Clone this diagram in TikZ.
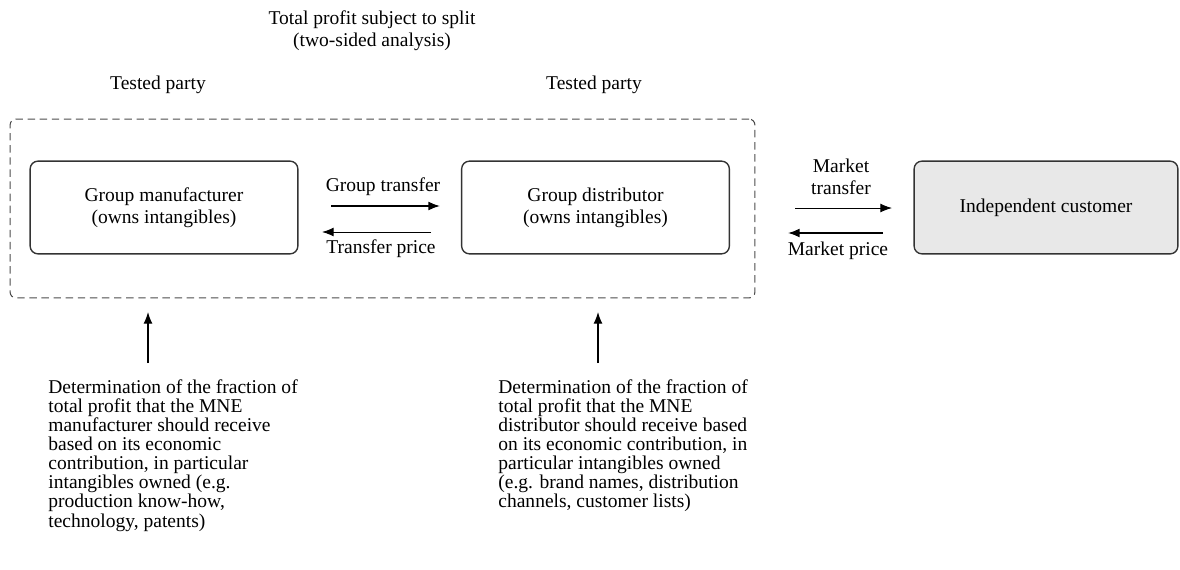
\documentclass[tikz,border=0pt]{standalone}
\usepackage{fontspec}
\setmainfont{Liberation Serif}
\usetikzlibrary{arrows.meta}

\tikzset{
    party/.style={draw=black!80, line width=0.7pt, rounded corners=4pt,
        minimum width=4.82cm, minimum height=1.67cm, align=center,
        font=\fontsize{10}{11.3}\selectfont},
    txt/.style={align=center, inner sep=0pt, font=\fontsize{10}{11.3}\selectfont},
    note/.style={align=left, anchor=north west, inner sep=0pt,
        font=\fontsize{10}{9.8}\selectfont},
    flow/.style={-{Latex[length=6pt,width=4.6pt]}, line width=0.5pt},
    boldflow/.style={flow, line width=0.8pt},
}

\begin{document}
\begin{tikzpicture}[x=0.018cm, y=-0.018cm]
    \useasboundingbox (0,0) rectangle (1180,569);

    % headings
    \node[txt] (split) at (372,31) {Total profit subject to split\\(two-sided analysis)};
    \node[txt] (test1) at (158,85) {Tested party};
    \node[txt] (test2) at (594,85) {Tested party};

    % the group
    \node[draw=black!70, dash pattern=on 3.8pt off 2.4pt, line width=0.55pt, rounded corners=3pt,
        minimum width=13.41cm, minimum height=3.22cm] (mne) at (382.5,208.5) {};
    \node[party] (manu) at (164,207.5) {Group manufacturer\\(owns intangibles)};
    \node[party] (dist) at (595.5,207.5) {Group distributor\\(owns intangibles)};
    \node[party, fill=black!9, minimum width=4.75cm] (cust) at (1046,207.5) {Independent customer};

    % flows between the parties
    \coordinate (gt0) at (331,206);  \coordinate (gt1) at (440,206);
    \coordinate (tp0) at (431,232);  \coordinate (tp1) at (322,232);
    \coordinate (mt0) at (795,208);  \coordinate (mt1) at (892,208);
    \coordinate (mp0) at (883,233);  \coordinate (mp1) at (788,233);
    \draw[boldflow] (gt0) -- (gt1);
    \draw[flow] (tp0) -- (tp1);
    \draw[flow] (mt0) -- (mt1);
    \draw[boldflow] (mp0) -- (mp1);
    \node[txt] (gtlab) at (383,187) {Group transfer};
    \node[txt] (tplab) at (381,249) {Transfer price};
    \node[txt] (mtlab) at (841,177) {Market\\transfer};
    \node[txt] (mplab) at (838,251) {Market price};

    % determination notes
    \node[note] (note1) at (48,379) {Determination of the fraction of\\total profit that the MNE\\manufacturer should receive\\based on its economic\\contribution, in particular\\intangibles owned (e.g.\\production know-how,\\technology, patents)};
    \node[note] (note2) at (498,379) {Determination of the fraction of\\total profit that the MNE\\distributor should receive based\\on its economic contribution, in\\particular intangibles owned\\(e.g. brand names, distribution\\channels, customer lists)};

    \coordinate (up1) at (148,312);  \coordinate (lo1) at (148,363);
    \coordinate (up2) at (598,312);  \coordinate (lo2) at (598,363);
    \draw[flow, line width=0.6pt] (lo1) -- (up1);
    \draw[flow, line width=0.6pt] (lo2) -- (up2);
\end{tikzpicture}
\end{document}
